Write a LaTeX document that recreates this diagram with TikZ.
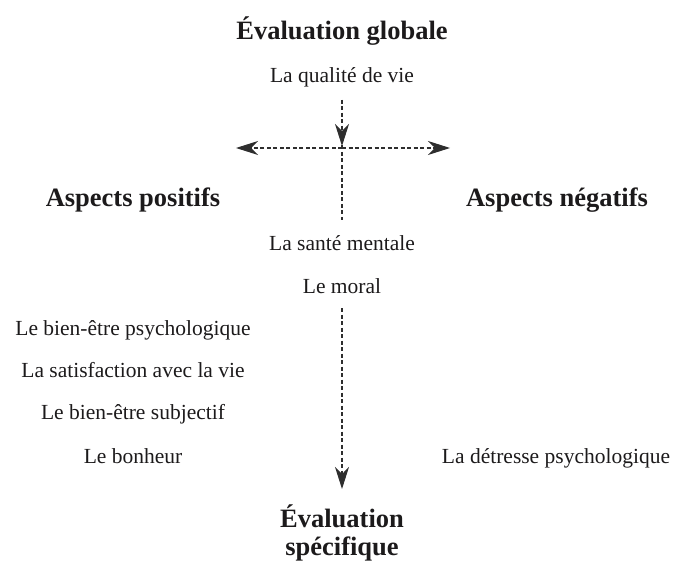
\documentclass[tikz,border=0pt]{standalone}
\usepackage{fontspec}
\setmainfont{Liberation Serif}
\usetikzlibrary{arrows.meta}
\definecolor{ink}{HTML}{1C1A1B}
\definecolor{dashgray}{HTML}{2E2E2E}
\tikzset{
  label text/.style={anchor=base, inner sep=0pt, text=ink, font=\fontsize{21.5}{26}\selectfont},
  heading/.style={anchor=base, inner sep=0pt, text=ink, font=\fontsize{26.5}{28}\selectfont\bfseries},
  dashline/.style={draw=dashgray, line width=1.1pt, dash pattern=on 4pt off 2.5pt},
  tip/.style={-{Stealth[length=22pt,width=14pt,inset=7pt]}},
}
\begin{document}
\begin{tikzpicture}[x=1pt,y=-1pt]
\useasboundingbox (0,0) rectangle (674,561);

% global level
\node[heading]    (global) at (342,40)  {Évaluation globale};
\node[label text] (qual)   at (342,82.5) {La qualité de vie};

% the two sides
\node[heading] (pos) at (133,207) {Aspects positifs};
\node[heading] (neg) at (557,207) {Aspects négatifs};

% centre column
\node[label text] (sante) at (342,250.5) {La santé mentale};
\node[label text] (moral) at (342,293)   {Le moral};

% positive side
\node[label text] (bienpsy) at (133,335.5) {Le bien-être psychologique};
\node[label text] (satis)   at (133,377.5) {La satisfaction avec la vie};
\node[label text] (bienest) at (133,419.5) {Le bien-être subjectif};
\node[label text] (bonheur) at (133,463.5) {Le bonheur};

% negative side
\node[label text] (detresse) at (556,463.5) {La détresse psychologique};

% specific level
\node[heading] (spec1) at (342,527) {Évaluation};
\node[heading] (spec2) at (342,555) {spécifique};

% axes
\coordinate (vtop)  at (342,100);
\coordinate (cross) at (342,146);
\coordinate (vend)  at (342,220);
\coordinate (hleft) at (236,148);
\coordinate (hright) at (450,148);
\coordinate (mid)   at (342,148);
\coordinate (dtop)  at (342,308);
\coordinate (dend)  at (342,489);

\draw[dashline] (vtop) -- (vend);
\draw[dashline, tip] (vtop) -- (cross);
\draw[dashline, tip] (mid) -- (hleft);
\draw[dashline, tip] (mid) -- (hright);
\draw[dashline, tip] (dtop) -- (dend);
\end{tikzpicture}
\end{document}
